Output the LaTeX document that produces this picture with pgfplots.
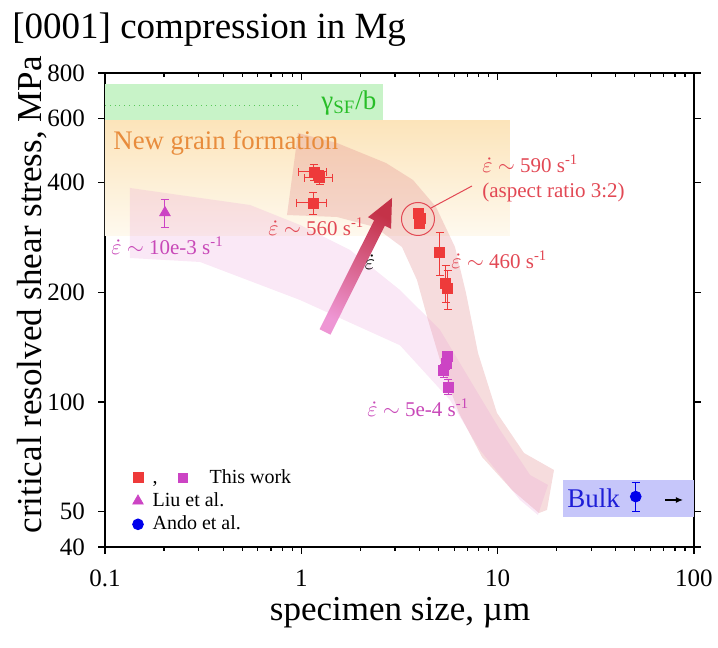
\documentclass[border=0pt]{standalone}
\usepackage{fontspec}
\setmainfont{Liberation Serif}
\usepackage{pgfplots}
\pgfplotsset{compat=1.18}
\usetikzlibrary{arrows.meta}

\definecolor{tred}{RGB}{238,58,58}
\definecolor{tmag}{RGB}{204,68,196}
\definecolor{tblue}{RGB}{0,0,235}
\definecolor{annred}{RGB}{226,72,84}
\definecolor{annmag}{RGB}{200,72,184}
\definecolor{gfill}{RGB}{200,243,200}
\definecolor{gtext}{RGB}{40,190,40}
\definecolor{gline}{RGB}{90,200,90}
\definecolor{otop}{RGB}{252,228,186}
\definecolor{obot}{RGB}{254,249,238}
\definecolor{otext}{RGB}{232,140,60}
\definecolor{bfill}{RGB}{198,198,250}
\definecolor{btext}{RGB}{30,30,215}
\definecolor{salmonb}{RGB}{222,128,132}
\definecolor{pinkb}{RGB}{232,150,212}
\definecolor{arrlo}{RGB}{238,150,212}
\definecolor{arrhi}{RGB}{196,50,72}

\newcommand{\ed}{$\dot{\varepsilon}$}

\pgfplotstableread{
x y ex ey
1.16 428 0.19 22
1.24 413 0.20 18
1.15 352 0.20 25
3.95 330 0 8
4.05 320 0 8
4.00 310 0 8
5.06 257 0 35
5.43 212 0 25
5.56 205 0 25
}\redpts

\pgfplotstableread{
x y ex ey
5.56 133 0 5
5.45 128 0 5
5.30 122 0 5
5.60 110 0 5
}\magpts

\pgfplotstableread{
x y ex ey
0.202 331 0 29
}\liupts

\pgfplotstableread{
x y ex ey
50.5 55 0 5
}\andopts

\begin{document}
\begin{tikzpicture}
\useasboundingbox (-52.5pt,-50.5pt) rectangle (306.5pt,273.5pt);
\begin{axis}[
  at={(0pt,0pt)}, anchor=south west,
  scale only axis, width=294.5pt, height=237pt,
  xmode=log, ymode=log,
  xmin=0.1, xmax=100, ymin=40, ymax=800,
  xtick={0.1,1,10,100}, xticklabels={0.1,1,10,100},
  minor xtick={0.2,0.3,0.4,0.5,0.6,0.7,0.8,0.9,2,3,4,5,6,7,8,9,20,30,40,50,60,70,80,90},
  ytick={40,50,100,200,400,600,800}, yticklabels={40,50,100,200,400,600,800},
  yminorticks=false,
  xtick pos=left, ytick pos=both,
  tick align=outside,
  major tick length=3.5pt, minor tick length=2pt,
  every tick/.append style={line width=0.6pt, black},
  axis line style={line width=0.8pt},
  tick label style={font=\fontsize{12.5}{14}\selectfont},
  xticklabel shift=4.5pt, yticklabel shift=3pt,
  xlabel={specimen size, µm},
  ylabel={critical resolved shear stress, MPa},
  every axis x label/.style={at={(axis description cs:0.501,-0.139)}, anchor=center, font=\fontsize{17.5}{20}\selectfont},
  every axis y label/.style={at={(axis description cs:-0.124,0.532)}, rotate=90, anchor=center, font=\fontsize{17.5}{20}\selectfont},
  legend style={at={(rel axis cs:0.036,0.014)}, anchor=south west, draw=none, fill=none,
    font=\fontsize{10}{12}\selectfont, cells={anchor=west}, nodes={inner sep=1.6pt}, row sep=0pt, column sep=3pt},
  /pgf/number format/assume math mode=true,
]
% green band (gamma_SF/b)
\fill[gfill] (rel axis cs:0,0.9008) rectangle (rel axis cs:0.472,0.9768);
% orange region
\shade[top color=otop, bottom color=obot] (rel axis cs:0,0.6582) rectangle (rel axis cs:0.6876,0.9008);
\draw[gline, dotted, line width=0.4pt] (rel axis cs:0,0.9325) -- (rel axis cs:0.331,0.9325);
% bulk box
\fill[bfill] (rel axis cs:0.7776,0.0633) rectangle (rel axis cs:1.0,0.1414);
% salmon band (high rate)
\fill[salmonb, opacity=0.28] (rel axis cs:.3277,.8734) -- (rel axis cs:.3939,.8523) -- (rel axis cs:.4771,.8101) -- (rel axis cs:.5229,.7743) -- (rel axis cs:.562,.7173) -- (rel axis cs:.5942,.6329) -- (rel axis cs:.6129,.5359) -- (rel axis cs:.6333,.4093) -- (rel axis cs:.6655,.2827) -- (rel axis cs:.7114,.1983) -- (rel axis cs:.7623,.1624) -- (rel axis cs:.7504,.0781) -- (rel axis cs:.7368,.0717) -- (rel axis cs:.691,.1203) -- (rel axis cs:.6401,.1899) -- (rel axis cs:.601,.2827) -- (rel axis cs:.5739,.3734) -- (rel axis cs:.5484,.4789) -- (rel axis cs:.5297,.5633) -- (rel axis cs:.5042,.6329) -- (rel axis cs:.4584,.6751) -- (rel axis cs:.3939,.6962) -- (rel axis cs:.309,.7004) -- cycle;
% pink band (low rate)
\fill[pinkb, opacity=0.22] (rel axis cs:.0424,.7574) -- (rel axis cs:.2462,.7215) -- (rel axis cs:.3311,.6793) -- (rel axis cs:.416,.6266) -- (rel axis cs:.5008,.5422) -- (rel axis cs:.5688,.4578) -- (rel axis cs:.6197,.3523) -- (rel axis cs:.6706,.2468) -- (rel axis cs:.7216,.1519) -- (rel axis cs:.7521,.1308) -- (rel axis cs:.7351,.0675) -- (rel axis cs:.7046,.0992) -- (rel axis cs:.6367,.2046) -- (rel axis cs:.5857,.3101) -- (rel axis cs:.5008,.4256) -- (rel axis cs:.3311,.5211) -- (rel axis cs:.1613,.6013) -- (rel axis cs:.0424,.6097) -- cycle;
% strain-rate arrow
\shade[top color=arrhi, bottom color=arrlo, shading angle=-27] (rel axis cs:.3827,.4479) -- (rel axis cs:.4752,.6778) -- (rel axis cs:.4857,.6713) -- (rel axis cs:.4873,.7363) -- (rel axis cs:.4464,.6958) -- (rel axis cs:.4569,.6892) -- (rel axis cs:.3643,.4593) -- cycle;
% circle and leader
\draw[annred, line width=0.5pt] (rel axis cs:.5314,.692) circle[radius=8.25pt];
\draw[annred, line width=0.5pt] (rel axis cs:.5535,.7152) -- (rel axis cs:.6231,.7616);
% small arrow in bulk box
\draw[black, line width=0.6pt, -{Latex[length=3.5pt,width=3pt]}] (rel axis cs:.9508,.0992) -- (rel axis cs:.9813,.0992);

\addplot[only marks, mark=square*, mark size=2.5pt, color=tred, mark options={fill=tred, draw=tred},
  error bars/.cd, x dir=both, x explicit, y dir=both, y explicit,
  error bar style={line width=0.5pt, tred},
  error mark options={rotate=90, mark size=2pt, line width=0.5pt, tred}]
  table[x=x, y=y, x error=ex, y error=ey] {\redpts};
\addlegendentry{,\hspace{10pt}{\color{tmag}\rule{5pt}{5pt}}\hspace{11pt}This work}
\addplot[only marks, mark=square*, mark size=2.5pt, color=tmag, mark options={fill=tmag, draw=tmag}, forget plot,
  error bars/.cd, y dir=both, y explicit,
  error bar style={line width=0.5pt, tmag},
  error mark options={rotate=90, mark size=2pt, line width=0.5pt, tmag}]
  table[x=x, y=y, y error=ey] {\magpts};
\addplot[only marks, mark=triangle*, mark size=3pt, color=tmag, mark options={fill=tmag, draw=tmag},
  error bars/.cd, y dir=both, y explicit,
  error bar style={line width=0.5pt, tmag},
  error mark options={rotate=90, mark size=2pt, line width=0.5pt, tmag}]
  table[x=x, y=y, y error=ey] {\liupts};
\addlegendentry{Liu et al.}
\addplot[only marks, mark=*, mark size=2.7pt, color=tblue, mark options={fill=tblue, draw=tblue},
  error bars/.cd, y dir=both, y explicit,
  error bar style={line width=0.5pt, tblue},
  error mark options={rotate=90, mark size=2pt, line width=0.5pt, tblue}]
  table[x=x, y=y, y error=ey] {\andopts};
\addlegendentry{Ando et al.}

% texts
\node[anchor=center, text=gtext, font=\fontsize{13.5}{15}\selectfont] at (rel axis cs:.4142,.9367) {γ\textsubscript{SF}/b};
\node[anchor=west, inner sep=0pt, text=otext, font=\fontsize{13.4}{15}\selectfont] at (rel axis cs:.0136,.8523) {New grain formation};
\node[anchor=west, inner sep=0pt, text=annmag, font=\fontsize{10.5}{12}\selectfont] at (rel axis cs:.0102,.635) {\ed{} $\sim$ 10e-3 s\textsuperscript{-1}};
\node[anchor=west, inner sep=0pt, text=annred, font=\fontsize{10.5}{12}\selectfont] at (rel axis cs:.2767,.6751) {\ed{} $\sim$ 560 s\textsuperscript{-1}};
\node[anchor=center, inner sep=0pt, text=black, font=\fontsize{10.5}{12}\selectfont] at (rel axis cs:.4499,.6013) {\ed};
\node[anchor=west, inner sep=0pt, text=annred, font=\fontsize{10.5}{12}\selectfont] at (rel axis cs:.5874,.6055) {\ed{} $\sim$ 460 s\textsuperscript{-1}};
\node[anchor=west, inner sep=0pt, text=annmag, font=\fontsize{10.5}{12}\selectfont] at (rel axis cs:.4448,.2932) {\ed{} $\sim$ 5e-4 s\textsuperscript{-1}};
\node[anchor=west, inner sep=0pt, text=annred, font=\fontsize{10.5}{12}\selectfont] at (rel axis cs:.6401,.808) {\ed{} $\sim$ 590 s\textsuperscript{-1}};
\node[anchor=west, inner sep=0pt, text=annred, font=\fontsize{10.5}{12}\selectfont] at (rel axis cs:.6401,.7489) {(aspect ratio 3:2)};
\node[anchor=west, inner sep=0pt, text=btext, font=\fontsize{13.5}{15}\selectfont] at (rel axis cs:.7844,.1034) {Bulk};
\end{axis}
\begin{axis}[
  at={(0pt,0pt)}, anchor=south west,
  scale only axis, width=294.5pt, height=237pt,
  xmode=log, ymode=log,
  xmin=0.1, xmax=100, ymin=40, ymax=800,
  axis x line*=top, axis y line=none,
  xtick={0.1,1,10,100}, xticklabels={},
  minor xtick={0.2,0.3,0.4,0.5,0.6,0.7,0.8,0.9,2,3,4,5,6,7,8,9,20,30,40,50,60,70,80,90},
  tick align=inside,
  major tick length=3.5pt, minor tick length=2pt,
  every tick/.append style={line width=0.6pt, black},
  axis line style={line width=0.8pt, -},
]
\end{axis}
\node[anchor=base west, inner sep=0pt, font=\fontsize{18.5}{21}\selectfont] at (-46.5pt,254pt) {[0001] compression in Mg};
\end{tikzpicture}
\end{document}
